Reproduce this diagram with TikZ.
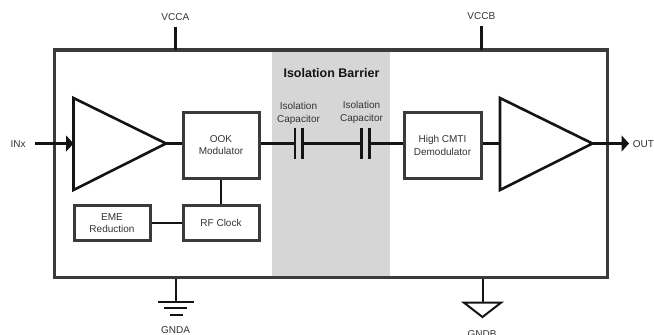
\documentclass[tikz,border=0pt]{standalone}
\usepackage{fontspec}
\setmainfont{Liberation Sans}
\usetikzlibrary{arrows.meta}
\definecolor{frame}{HTML}{3A3A3A}
\definecolor{ink}{HTML}{141414}
\definecolor{lbl}{HTML}{333333}
\definecolor{barrier}{HTML}{D6D6D6}
\tikzset{
  lab/.style={inner sep=0pt,text=lbl,align=center,font=\fontsize{10}{12.6}\selectfont},
  blockbox/.style={draw=frame,line width=3pt,fill=white,inner sep=0pt,text=lbl,align=center,font=\fontsize{10}{12.4}\selectfont},
  wire/.style={draw=ink,line width=2.4pt},
  amp/.style={draw=ink,line width=2.6pt,fill=white,line join=miter},
  bigarrow/.style={-{Triangle[length=7.5pt,width=16pt]},draw=ink,line width=2.4pt},
}
\begin{document}
\begin{tikzpicture}[x=1pt,y=-1pt]
\useasboundingbox (0,0) rectangle (654,335);
\fill[white] (0,0) rectangle (654,335);
% barrier and package
\node[fill=barrier,inner sep=0pt,minimum width=118pt,minimum height=228pt] (barrier) at (331,164) {};
\node[draw=frame,line width=3.2pt,inner sep=0pt,minimum width=552.5pt,minimum height=227.7pt] (pkg) at (331,163.9) {};
\node[inner sep=0pt,text=ink,font=\fontsize{12.5}{15}\selectfont\bfseries] (bartitle) at (331.5,73) {Isolation Barrier};
% supply labels
\node[lab] (vcca) at (175.3,17) {VCCA};
\node[lab] (vccb) at (481.3,16) {VCCB};
\node[lab] (inx) at (18,144) {INx};
\node[lab] (out) at (643.5,144) {OUT};
\node[lab] (gnda) at (175.5,330.5) {GNDA};
\node[lab] (gndb) at (482,334.5) {GNDB};
% supply stubs
\coordinate (vccaT) at (175.3,26.5);
\coordinate (vccaB) at (175.3,50);
\coordinate (vccbT) at (481.3,25.5);
\coordinate (vccbB) at (481.3,50);
\draw[wire] (vccaT) -- (vccaB);
\draw[wire] (vccbT) -- (vccbB);
% blocks
\node[blockbox,minimum width=76pt,minimum height=66pt] (ook) at (221,145) {OOK\\Modulator};
\node[blockbox,minimum width=76pt,minimum height=35pt] (rf) at (221,223) {RF Clock};
\node[blockbox,minimum width=76pt,minimum height=35pt] (eme) at (112,223) {EME\\Reduction};
\node[blockbox,minimum width=77pt,minimum height=66pt] (dem) at (442.5,145.5) {High CMTI\\Demodulator};
% amplifiers
\coordinate (a1t) at (73.5,98);
\coordinate (a1b) at (73.5,190);
\coordinate (a1o) at (166,143.5);
\coordinate (a1i) at (73.5,143.5);
\coordinate (a2t) at (500,98);
\coordinate (a2b) at (500,190);
\coordinate (a2o) at (592.5,143.5);
\coordinate (a2i) at (500,143.5);
% wires
\coordinate (inS) at (35,143.5);
\coordinate (outE) at (629,143.5);
\coordinate (c1a) at (295,143.5);
\coordinate (c1b) at (302.5,143.5);
\coordinate (c2a) at (361.3,143.5);
\coordinate (c2b) at (369.3,143.5);
\draw[wire] (a1o) -- (ook.west |- a1o);
\draw[wire] (ook.east |- c1a) -- (c1a);
\draw[wire] (c1b) -- (c2a);
\draw[wire] (c2b) -- (dem.west |- c2b);
\draw[wire] (dem.east |- a2i) -- (a2i);
\draw[wire] (ook.south) -- (rf.north);
\draw[wire] (eme.east) -- (rf.west);
\draw[bigarrow] (inS) -- (a1i);
\draw[bigarrow] (a2o) -- (outE);
\draw[amp] (a1t) -- (a1o) -- (a1b) -- cycle;
\draw[amp] (a2t) -- (a2o) -- (a2b) -- cycle;
% capacitors
\draw[wire] (295,127.7) -- (295,159);
\draw[wire] (302.5,127.7) -- (302.5,159);
\draw[wire] (361.3,127.7) -- (361.3,159);
\draw[wire] (369.3,127.7) -- (369.3,159);
\node[lab] (cl1) at (298.5,113.7) {Isolation\\Capacitor};
\node[lab] (cl2) at (361.5,112.7) {Isolation\\Capacitor};
% grounds
\coordinate (gaT) at (176,279);
\coordinate (gaB) at (176,301.7);
\coordinate (gbT) at (482.7,279);
\coordinate (gbB) at (482.7,302.7);
\draw[wire] (gaT) -- (gaB);
\draw[wire] (158.3,301.7) -- (194,301.7);
\draw[wire] (164,308.2) -- (187,308.2);
\draw[wire] (169.5,314.7) -- (183,314.7);
\draw[wire] (gbT) -- (gbB);
\draw[draw=ink,line width=2pt,line join=miter] (464,302.7) -- (501,302.7) -- (482.5,317) -- cycle;
\end{tikzpicture}
\end{document}
